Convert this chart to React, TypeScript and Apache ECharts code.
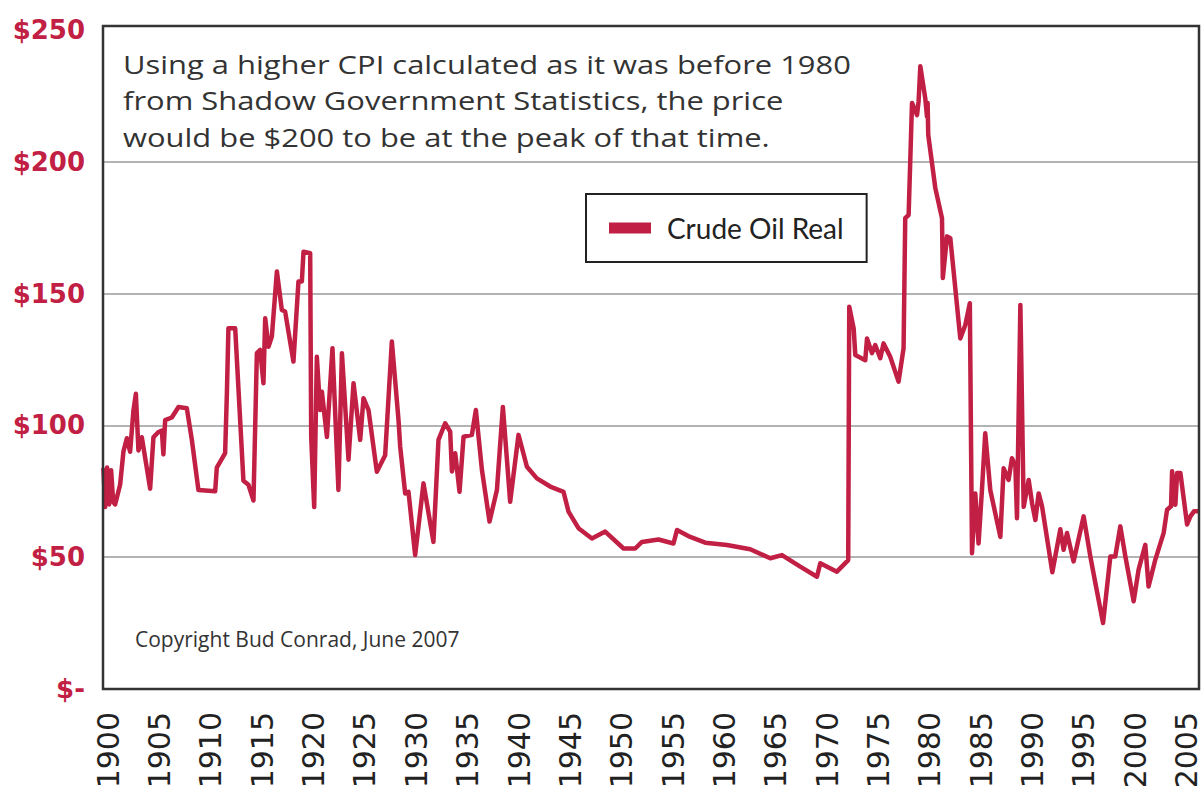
import React, { useEffect, useRef } from "react";
import * as echarts from "echarts";

// ---- data (real crude oil price) ----
const earlyYears = [1899.54, 1899.71, 1899.9, 1900.1, 1900.29, 1900.49, 1900.68, 1901.17, 1901.49, 1901.82, 1902.14, 1902.46, 1902.7, 1902.95, 1903.28, 1904.09, 1904.41, 1904.9, 1905.23, 1905.38, 1905.55, 1906.2, 1906.85, 1907.66, 1908.15, 1908.79, 1910.42, 1910.58, 1911.39, 1911.56, 1911.71, 1912.37, 1913.17, 1913.66, 1914.15, 1914.48, 1914.8, 1915.12, 1915.29, 1915.61, 1915.94, 1916.43, 1916.91, 1917.23, 1918.04, 1918.53, 1918.86, 1919.02, 1919.67, 1919.77];
const earlyPrices = [84, 69, 84, 70, 83, 71, 70, 77.6, 90.1, 95.1, 90, 105.5, 112, 90.5, 95.5, 76, 95.5, 97.5, 98, 89, 102, 103, 107, 106.5, 94.5, 75.5, 75, 84, 89.5, 112, 136.8, 136.8, 79, 77.5, 71.5, 127.4, 128.6, 116, 140.6, 129.8, 133.7, 158.4, 143.8, 143.2, 124.2, 154.6, 154.6, 165.9, 165.3, 95.5];

const interwarYears = [1920.06, 1920.32, 1920.64, 1920.81, 1921.3, 1921.84, 1922.42, 1922.76, 1923.4, 1923.89, 1924.54, 1924.86, 1925.35, 1926.16, 1926.97, 1927.62, 1928.27, 1928.43, 1928.92, 1929.24, 1929.89, 1930.7, 1931.67, 1932.16, 1932.81, 1933.3, 1933.47, 1933.79, 1934.21, 1934.6, 1935.41, 1935.8, 1936.39, 1937.13, 1937.85, 1938.43, 1939.14, 1939.95, 1940.77, 1941.74, 1943.04, 1944.33, 1944.82, 1945.79];
const interwarPrices = [69, 126, 105.8, 112.8, 95.6, 129.3, 75.5, 127.4, 87, 116, 94.5, 110.3, 105.8, 82.4, 88.7, 131.8, 102, 92, 74.2, 74.8, 50.8, 78, 55.8, 94.5, 100.8, 97.6, 82.5, 89.4, 74.8, 95.7, 96.4, 105.8, 83.1, 63.5, 75.5, 107, 71, 96.4, 84.3, 79.9, 76.8, 74.8, 67.3, 61];

const postwarYears = [1947.1, 1948.39, 1950.18, 1951.31, 1951.97, 1953.58, 1955.04, 1955.38, 1956.67, 1958.13, 1960.24, 1962.51, 1964.46, 1965.6, 1967.38, 1969.01, 1969.33, 1970.95, 1972.05];
const postwarPrices = [57.1, 59.7, 53.3, 53.3, 55.8, 56.7, 55.2, 60.3, 57.7, 55.5, 54.6, 53, 49.6, 50.8, 46.4, 42.6, 47.7, 44.5, 48.9];

const modernYears = [1972.15, 1972.58, 1972.74, 1973.71, 1973.88, 1974.36, 1974.68, 1975.17, 1975.49, 1976.14, 1976.95, 1977.44, 1977.6, 1977.93, 1978.26, 1978.75, 1978.9, 1979.07, 1979.55, 1979.72, 1979.78, 1979.84, 1980.53, 1981.18, 1981.26, 1981.67, 1981.99, 1982.96, 1983.45, 1983.89, 1984.1, 1984.42, 1984.74, 1985.07, 1985.39, 1985.88, 1986.86, 1987.18, 1987.66, 1987.99, 1988.32, 1988.48, 1988.81, 1989.13, 1989.62, 1989.95, 1990.27, 1990.59, 1990.92, 1991.92, 1992.7, 1993.02, 1993.35, 1993.99, 1994.97, 1995.62, 1996.11, 1996.86, 1997.57, 1998.05, 1998.54, 1999.03, 1999.84, 2000.32, 2000.97, 2001.29, 2001.95, 2002.76, 2003.09, 2003.48, 2003.58, 2003.9, 2004.07, 2004.39, 2005.04, 2005.36, 2005.71, 2006.19];
const modernPrices = [145, 136.8, 126.7, 124.7, 133, 127.4, 130.5, 125.5, 131.1, 126, 116.6, 129.3, 178.6, 179.8, 222.3, 217.7, 222.9, 236.2, 224.1, 217.1, 222.3, 210.2, 190, 178.6, 155.9, 171.7, 171, 133, 138.1, 146.3, 51.5, 74.2, 55.2, 75.5, 97, 75.5, 57.7, 83.7, 79.3, 87.5, 85, 64.8, 145.7, 69.1, 79.3, 70.4, 64.1, 74.2, 69.3, 44.3, 60.6, 52.8, 59.2, 48.4, 65.5, 50.3, 40.2, 25, 50.3, 50.3, 61.7, 50.3, 33.3, 45.3, 54.7, 38.9, 49.1, 59.2, 68, 69.3, 82.6, 69.9, 81.9, 81.9, 62.4, 65.5, 67.4, 67.4];

const yearLabels = [1900, 1905, 1910, 1915, 1920, 1925, 1930, 1935, 1940, 1945, 1950, 1955, 1960, 1965, 1970, 1975, 1980, 1985, 1990, 1995, 2000, 2005];
const priceLabels = [0, 50, 100, 150, 200, 250];
const gridValues = [50, 100, 150, 200];

const seriesName = "Crude Oil Real";
const titleLines = [
  "Using a higher CPI calculated as it was before 1980",
  "from Shadow Government Statistics, the price",
  "would be $200 to be at the peak of that time.",
];
const copyrightText = "Copyright Bud Conrad, June 2007";

const CRIMSON = "#c21f45";

export default function App() {
  const ref = useRef<HTMLDivElement>(null);

  useEffect(() => {
    if (!ref.current) return;
    const chart = echarts.init(ref.current, null, { renderer: "svg" });

    const allYears = [...earlyYears, ...interwarYears, ...postwarYears, ...modernYears];
    const allPrices = [...earlyPrices, ...interwarPrices, ...postwarPrices, ...modernPrices];
    const points = allYears.map((y, i) => [y, allPrices[i]]);

    chart.setOption({
      animation: false,
      backgroundColor: "#ffffff",
      grid: {
        left: 103,
        right: 5,
        top: 26,
        bottom: 104,
        containLabel: false,
        outerBoundsMode: "none",
        show: false,
      },
      legend: {
        show: true,
        data: [seriesName],
        left: 586,
        top: 194,
        orient: "horizontal",
        icon: "rect",
        itemWidth: 42,
        itemHeight: 11,
        padding: [20, 23, 20, 23],
        borderColor: "#222",
        borderWidth: 2,
        backgroundColor: "#ffffff",
        selectedMode: false,
        itemStyle: { color: CRIMSON },
        textStyle: {
          fontFamily: "Lato, 'Open Sans', sans-serif",
          fontSize: 28,
          color: "#222",
          lineHeight: 24,
          padding: [0, 0, 0, 11],
        },
      },
      xAxis: {
        type: "value",
        min: 1899.5,
        max: 2006.2,
        axisLine: { show: false },
        axisTick: { show: false },
        splitLine: { show: false },
        axisLabel: {
          customValues: yearLabels,
          rotate: 90,
          margin: 23,
          fontSize: 30,
          lineHeight: 30,
          fontFamily: "'DejaVu Sans', sans-serif",
          color: "#222",
          formatter: (v: number) => String(v),
        },
      },
      yAxis: {
        type: "value",
        min: 0,
        max: 251.5,
        axisLine: { show: false },
        axisTick: { show: false },
        splitLine: { show: false },
        axisLabel: {
          customValues: priceLabels,
          margin: 18,
          fontSize: 26,
          fontWeight: "bold",
          fontFamily: "'DejaVu Sans', sans-serif",
          color: CRIMSON,
          formatter: (v: number) => (v === 0 ? "$-" : "$" + v),
        },
      },
      series: [
        {
          type: "line",
          name: seriesName,
          data: points,
          showSymbol: false,
          symbol: "none",
          silent: true,
          z: 3,
          lineStyle: { color: CRIMSON, width: 4.5, join: "round" },
          itemStyle: { color: CRIMSON },
          markLine: {
            silent: true,
            z: 1,
            symbol: ["none", "none"],
            label: { show: false },
            lineStyle: { color: "#9a9a9a", width: 1.5, type: "solid" },
            data: gridValues.map((v) => ({ yAxis: v })),
          },
        },
      ],
      graphic: [
        {
          type: "rect",
          silent: true,
          z: 10,
          shape: { x: 103, y: 26, width: 1096, height: 663 },
          style: { fill: "none", stroke: "#333", lineWidth: 2.5 },
        },
        {
          type: "text",
          silent: true,
          z: 11,
          x: 123,
          y: 46,
          scaleX: 1.237,
          style: {
            text: titleLines.join("\n"),
            fontSize: 25,
            fontFamily: "'Open Sans', sans-serif",
            fill: "#333",
            lineHeight: 36.4,
            align: "left",
            verticalAlign: "top",
          },
        },
        {
          type: "text",
          silent: true,
          z: 11,
          x: 135,
          y: 639,
          style: {
            text: copyrightText,
            fontSize: 21,
            fontFamily: "'Open Sans', sans-serif",
            fill: "#333",
            align: "left",
            verticalAlign: "middle",
          },
        },
      ],
    });

    return () => {
      chart.dispose();
    };
  }, []);

  return (
    <div
      ref={ref}
      style={{ position: "fixed", left: 0, top: 0, width: 1204, height: 793, background: "#fff" }}
    />
  );
}
